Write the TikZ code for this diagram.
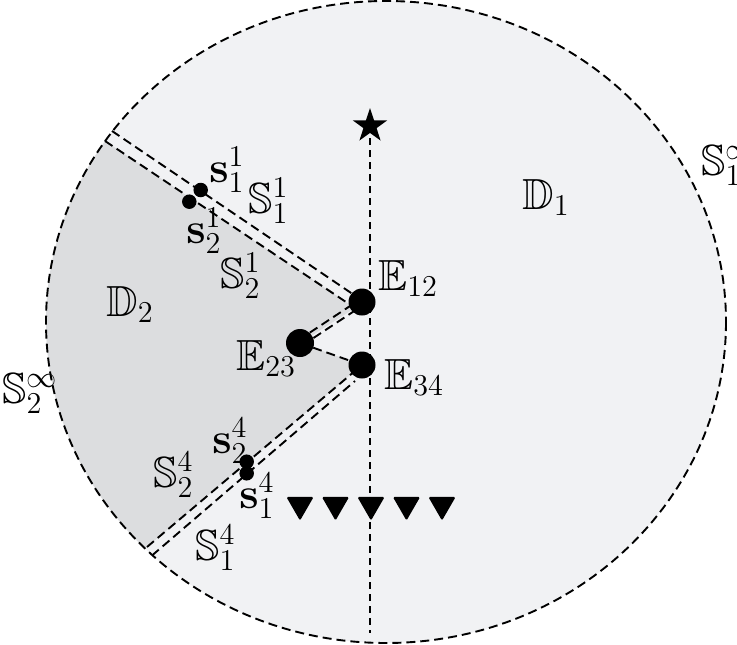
\documentclass[tikz,border=0pt]{standalone}
\usepackage{amssymb}
\usetikzlibrary{shapes.geometric,calc}
\definecolor{dOne}{RGB}{241,242,244}
\definecolor{dTwo}{RGB}{220,221,223}
\pgfdeclarelayer{bg}
\pgfsetlayers{bg,main}
\tikzset{
  bnd/.style={line width=1.9pt, dash pattern=on 9pt off 5pt},
  vln/.style={line width=1.3pt, dash pattern=on 7pt off 5pt},
  bigdot/.style={circle, fill=black, inner sep=0pt, minimum size=#1},
  sdot/.style={circle, fill=black, inner sep=0pt, minimum size=14.5pt},
  lbl/.style={inner sep=0pt, anchor=base west, font=\huge, scale=2.1},
  tri/.style={regular polygon, regular polygon sides=3, shape border rotate=180,
              fill=black, inner sep=0pt, minimum size=31.5pt, rounded corners=1.5pt},
  starmark/.style={star, star points=5, star point ratio=2.6, fill=black,
              inner sep=0pt, minimum size=36pt},
}
\begin{document}
\begin{tikzpicture}[x=1pt,y=-1pt]
\useasboundingbox (0,0) rectangle (737,645);
\coordinate (C) at (386,322);
\coordinate (pE12) at (362,302);
\coordinate (pE23) at (300,343);
\coordinate (pE34) at (362,365);
\coordinate (Uo) at (112,131);
\coordinate (Ui) at (360,299);
\coordinate (Lo) at (105,141);
\coordinate (Li) at (355,308);
\coordinate (Ao) at (147,547);
\coordinate (Ai) at (362,365);
\coordinate (Bo) at (152,555.5);
\coordinate (Bi) at (355,381);
\coordinate (bot) at (370,633);

% dots and marks
\node[bigdot=27pt] (E12) at (pE12) {};
\node[bigdot=28pt] (E23) at (pE23) {};
\node[bigdot=27pt] (E34) at (pE34) {};
\node[sdot] (s11) at (200.7,190) {};
\node[sdot] (s21) at (189.3,201.7) {};
\node[sdot] (s24) at (246.7,461.7) {};
\node[sdot] (s14) at (246.7,473.3) {};
\node[starmark] (star) at (370,126) {};
\foreach \i/\x in {1/300,2/335.5,3/371,4/406.5,5/442}
  \node[tri] (t\i) at (\x,504.8) {};

\begin{pgfonlayer}{bg}
\fill[white] (0,0) rectangle (737,645);
\fill[dOne] (C) ellipse [x radius=340, y radius=321];
\begin{scope}
\clip (C) ellipse [x radius=340, y radius=321];
\fill[dTwo] (Li) -- ($(Li)!1.3!(Lo)$) -- (0,60) -- (0,645) -- ($(Ai)!1.4!(Ao)$) -- (Ai) -- (E23.center) -- cycle;
\end{scope}
\draw[bnd] (C) ellipse [x radius=340, y radius=321];
\draw[bnd] (Uo) -- (Ui);
\draw[bnd] (Lo) -- (Li);
\draw[bnd] (Ao) -- (Ai);
\draw[bnd] (Bo) -- (Bi);
\draw[bnd] ([shift={(-1.8,-2.7)}]E23.center) -- ([shift={(-1.8,-2.7)}]E12.center);
\draw[bnd] ([shift={(1.8,2.7)}]E23.center) -- ([shift={(1.8,2.7)}]E12.center);
\draw[bnd] (E23.center) -- (E34.center);
\draw[vln] (star.center) -- (bot);
\end{pgfonlayer}

% labels
\node[lbl] (lD1) at (522,209) {$\mathbb{D}_1$};
\node[lbl] (lD2) at (106,316) {$\mathbb{D}_2$};
\node[lbl] (lS1inf) at (701,175) {$\mathbb{S}_1^\infty$};
\node[lbl] (lS2inf) at (2,403) {$\mathbb{S}_2^\infty$};
\node[lbl] (lS11) at (248,213) {$\mathbb{S}_1^1$};
\node[lbl] (lS21) at (220,288) {$\mathbb{S}_2^1$};
\node[lbl] (lS24) at (153,487) {$\mathbb{S}_2^4$};
\node[lbl] (lS14) at (195,560) {$\mathbb{S}_1^4$};
\node[lbl] (ls11) at (209,182) {$\mathbf{s}_1^1$};
\node[lbl] (ls21) at (186,243) {$\mathbf{s}_2^1$};
\node[lbl] (ls24) at (212,453) {$\mathbf{s}_2^4$};
\node[lbl] (ls14) at (239,508) {$\mathbf{s}_1^4$};
\node[lbl] (lE12) at (378,290) {$\mathbb{E}_{12}$};
\node[lbl] (lE23) at (236,370) {$\mathbb{E}_{23}$};
\node[lbl] (lE34) at (384,389) {$\mathbb{E}_{34}$};
\end{tikzpicture}
\end{document}
